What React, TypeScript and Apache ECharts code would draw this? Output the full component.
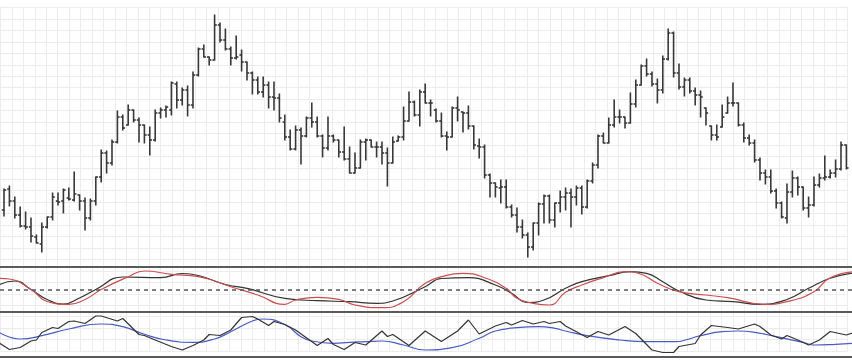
import React, { useEffect, useRef } from "react";
import * as echarts from "echarts";

// ---- OHLC data (157 bars), price units ----
const opens = [
  60, 81, 69, 55, 44, 43, 33, 26, 43, 53,
  69, 69, 72, 70, 75, 69, 52, 69, 93, 117,
  107, 128, 153, 145, 160, 150, 145, 135, 130, 157,
  160, 160, 186, 170, 180, 165, 195, 221, 213, 210,
  245, 230, 221, 212, 215, 208, 197, 190, 178, 185,
  173, 172, 148, 133, 121, 140, 134, 152, 148, 134,
  122, 134, 130, 118, 111, 97, 102, 128, 130, 123,
  123, 117, 107, 129, 133, 149, 168, 155, 178, 167,
  160, 149, 134, 133, 162, 158, 157, 144, 124, 123,
  95, 87, 82, 83, 63, 55, 43, 35, 23, 47,
  66, 74, 50, 67, 73, 77, 73, 82, 63, 89,
  105, 134, 127, 145, 153, 153, 147, 166, 185, 204,
  196, 186, 180, 211, 237, 197, 183, 190, 179, 175,
  162, 144, 135, 143, 157, 167, 167, 145, 132, 127,
  110, 97, 93, 79, 67, 52, 78, 92, 83, 62,
  65, 85, 92, 93, 97, 101, 125,
];
const closes = [
  80, 69, 55, 44, 43, 34, 27, 43, 53, 73,
  68, 80, 71, 76, 69, 52, 69, 93, 117, 107,
  128, 153, 142, 160, 150, 145, 135, 130, 157, 160,
  163, 187, 170, 180, 165, 195, 221, 213, 210, 245,
  230, 221, 212, 213, 208, 197, 190, 178, 185, 173,
  172, 152, 133, 121, 140, 134, 152, 148, 134, 122,
  134, 130, 118, 111, 97, 102, 128, 130, 123, 123,
  117, 107, 128, 133, 149, 168, 155, 178, 167, 167,
  149, 134, 133, 162, 160, 157, 144, 125, 123, 95,
  87, 83, 83, 63, 55, 43, 35, 23, 47, 66,
  74, 50, 67, 73, 77, 73, 82, 63, 89, 105,
  134, 127, 145, 153, 153, 147, 166, 185, 204, 196,
  186, 180, 211, 237, 197, 183, 190, 179, 175, 173,
  157, 135, 133, 153, 167, 167, 145, 132, 127, 110,
  97, 93, 79, 67, 53, 78, 92, 83, 62, 65,
  85, 92, 93, 97, 101, 125, 102,
];
const highs = [
  81, 84, 73, 63, 58, 52, 35, 47, 53, 77,
  77, 81, 82, 98, 75, 72, 71, 93, 120, 119,
  130, 159, 155, 165, 160, 152, 145, 143, 160, 162,
  164, 188, 188, 182, 184, 198, 222, 225, 213, 255,
  247, 241, 223, 234, 220, 208, 198, 193, 193, 188,
  188, 176, 155, 140, 144, 142, 153, 167, 153, 135,
  153, 135, 130, 143, 123, 117, 130, 131, 130, 128,
  128, 122, 133, 134, 163, 178, 169, 180, 186, 170,
  161, 157, 138, 163, 173, 158, 164, 144, 131, 125,
  96, 87, 90, 90, 65, 62, 50, 37, 47, 67,
  75, 75, 67, 79, 82, 81, 84, 84, 90, 107,
  135, 137, 152, 170, 160, 153, 177, 190, 205, 211,
  198, 191, 214, 241, 238, 206, 192, 192, 182, 179,
  162, 144, 145, 165, 173, 187, 167, 147, 135, 130,
  112, 100, 100, 81, 68, 86, 99, 93, 83, 73,
  93, 96, 114, 100, 110, 128, 125,
];
const lows = [
  54, 64, 52, 43, 41, 28, 27, 18, 42, 50,
  65, 57, 70, 69, 60, 40, 50, 65, 88, 97,
  105, 127, 140, 145, 148, 128, 127, 115, 129, 152,
  153, 155, 162, 165, 154, 162, 194, 213, 205, 210,
  228, 220, 205, 211, 199, 190, 176, 176, 173, 162,
  160, 148, 130, 120, 120, 106, 133, 143, 133, 113,
  120, 128, 113, 110, 97, 97, 102, 110, 123, 113,
  106, 84, 107, 129, 130, 149, 154, 144, 167, 154,
  148, 133, 120, 133, 149, 138, 141, 121, 112, 92,
  73, 73, 67, 62, 53, 38, 32, 13, 20, 35,
  47, 47, 43, 58, 60, 43, 65, 56, 62, 87,
  102, 127, 127, 143, 147, 142, 147, 163, 185, 194,
  184, 167, 177, 210, 193, 181, 174, 177, 165, 153,
  145, 130, 130, 143, 157, 164, 144, 128, 125, 108,
  90, 86, 77, 62, 52, 47, 73, 75, 60, 53,
  64, 83, 90, 92, 93, 100, 101,
];

// ---- Oscillator panel (bar index, value) ----
const oscBlack: [number, number][] = [
  [-1, 4.5], [2, 8.5], [5, 0], [8, -10], [11, -14.5], [14, -8.5], [17, 0], [22, 12.5],
  [29, 11.8], [33, 16], [36, 14], [41, 5], [45, 1.2], [52, -8.8], [58, -11.2], [64, -12.2],
  [69, -13.8], [72, -11.5], [78, 2.8], [81, 11], [86, 11.8], [91, 4.5], [94, -3.8], [97, -13],
  [100, -10.5], [104, 1.2], [107, 7.8], [112, 13.8], [116, 17.8], [119, 16.2], [122, 7.8],
  [125, -1.5], [130, -10.5], [135, -12.2], [140, -14.8], [145, -10], [149, 1.2], [153, 11.2], [158, 17],
];
const oscRed: [number, number][] = [
  [-1, 11.2], [1, 10.5], [5, 0], [8, -12], [12, -14.8], [15, -10], [18, 0], [23, 12.8],
  [26, 18.5], [31, 15.2], [36, 12.8], [42, 2.8], [47, -5.5], [52, -14.8], [54, -10.5], [58, -7.8],
  [62, -9.8], [65, -15.5], [70, -18.2], [74, -12.2], [78, 6.2], [81, 12.8], [85, 16.2], [89, 11.8],
  [93, 1.2], [95, -8.8], [98, -13.8], [101, -15.5], [104, -2.8], [107, 4.5], [111, 11.8], [115, 17.8],
  [118, 15.2], [121, 6.2], [125, -2.2], [130, -5.5], [134, -8.2], [141, -14.8], [145, -12.2],
  [150, -2.2], [153, 11.8], [158, 18],
];
const oscZero = 0;

// ---- Lower panel (bar index, value) ----
const lowerBlack: [number, number][] = [
  [-1, 14], [1, 7], [3, 9], [5, 15.5], [6, 16.5], [7, 24], [9, 29], [10, 28], [12, 35], [13, 35.5],
  [15, 33], [17, 40.5], [18, 40.5], [21, 35.5], [22, 38], [25, 22], [26, 21], [28, 16.5], [31, 10],
  [33, 6.5], [35, 11], [37, 16.5], [38, 22], [40, 21], [42, 26.5], [44, 39], [46, 40], [47, 37.5],
  [49, 31], [50, 35], [52, 32], [54, 26.5], [58, 11], [60, 18], [61, 12], [63, 7], [65, 14],
  [67, 11.5], [70, 25.5], [71, 20], [72, 22], [75, 11], [78, 25.5], [81, 15], [84, 25.5], [86, 36.5],
  [88, 22.5], [91, 30.5], [93, 34], [94, 31.5], [96, 36], [98, 32.5], [100, 35], [101, 33], [103, 35],
  [104, 30.5], [108, 19], [110, 25], [112, 21.5], [115, 30], [117, 23], [120, 6.5], [122, 4], [124, 4],
  [125, 10], [128, 13], [129, 21.5], [131, 31], [134, 29], [136, 27.5], [139, 32.5], [140, 30],
  [142, 21.5], [144, 17.5], [145, 21], [147, 16.5], [149, 11.5], [151, 16.5], [153, 25], [156, 21.5], [158, 25],
];
const lowerBlue: [number, number][] = [
  [-1, 24.5], [3, 17.5], [7, 20.8], [12, 27.5], [18, 32.5], [22, 29.8], [26, 22.2], [30, 16.5],
  [35, 14.2], [39, 17.5], [42, 24.8], [46, 35.5], [48, 37.5], [52, 32], [55, 19.8], [57, 15.5],
  [61, 13.2], [64, 14.2], [67, 14.8], [70, 15.5], [74, 11.5], [78, 6.5], [83, 8.8], [88, 18.2],
  [91, 25.5], [95, 28.8], [99, 29.8], [102, 28.2], [104, 25.5], [108, 20.8], [114, 16.5], [119, 14.8],
  [124, 14.8], [129, 20.8], [133, 24.8], [136, 25.5], [139, 24.2], [143, 19.8], [148, 14.2],
  [150, 11.5], [154, 12.2], [158, 13.5],
];

const X_MIN = -0.74;
const X_MAX = 157.04;
const BAR_COLOR = "#383838";
const BORDER = "#5a5a5a";
const GRID_LINE = "#ececec";

export default function App() {
  const ref = useRef<HTMLDivElement>(null);
  useEffect(() => {
    if (!ref.current) return;
    const chart = echarts.init(ref.current, undefined, { renderer: "svg" });
    const ohlc = closes.map((c, i) => [i, opens[i], c, lows[i], highs[i]]);
    const hiddenX = (gridIndex: number) => ({
      type: "value" as const, gridIndex, min: X_MIN, max: X_MAX,
      axisLine: { show: false }, axisTick: { show: false }, axisLabel: { show: false }, splitLine: { show: false },
    });
    const borderX = (gridIndex: number, position: "top" | "bottom") => ({
      type: "value" as const, gridIndex, min: X_MIN, max: X_MAX, position,
      axisLine: { show: true, onZero: false, lineStyle: { color: BORDER, width: 2 } },
      axisTick: { show: false }, axisLabel: { show: false }, splitLine: { show: false },
    });
    const hiddenY = (gridIndex: number, min: number, max: number) => ({
      type: "value" as const, gridIndex, min, max,
      axisLine: { show: false }, axisTick: { show: false }, axisLabel: { show: false }, splitLine: { show: false },
    });
    chart.setOption({
      animation: false,
      backgroundColor: "#ffffff",
      grid: [
        { left: 0.5, top: 7.5, width: 847, height: 343.5 },
        { left: 0, right: 0, top: 0, height: 265 },
        { left: 0, right: 0, top: 267, height: 44.5 },
        { left: 0, right: 0, top: 311.5, height: 45 },
      ],
      xAxis: [
        {
          type: "value", gridIndex: 0, min: 0, max: 74, interval: 1,
          axisLine: { show: false }, axisTick: { show: false }, axisLabel: { show: false },
          splitLine: { show: true, lineStyle: { color: GRID_LINE, width: 1 } },
        },
        hiddenX(1),
        borderX(2, "top"),
        borderX(3, "top"),
        borderX(3, "bottom"),
      ],
      yAxis: [
        {
          type: "value", gridIndex: 0, min: 0, max: 30, interval: 1,
          axisLine: { show: false }, axisTick: { show: false }, axisLabel: { show: false },
          splitLine: { show: true, lineStyle: { color: GRID_LINE, width: 1 } },
        },
        hiddenY(1, 5, 270),
        hiddenY(2, -22, 22.5),
        hiddenY(3, 0, 45),
      ],
      series: [
        {
          type: "custom",
          xAxisIndex: 1,
          yAxisIndex: 1,
          data: ohlc,
          encode: { x: 0, y: [1, 2, 3, 4] },
          renderItem: (_params: any, api: any) => {
            const x = api.value(0);
            const o = api.coord([x, api.value(1)]);
            const c = api.coord([x, api.value(2)]);
            const l = api.coord([x, api.value(3)]);
            const h = api.coord([x, api.value(4)]);
            const style = { stroke: BAR_COLOR, lineWidth: 1.6 };
            const t = 2.2;
            return {
              type: "group",
              children: [
                { type: "line", shape: { x1: h[0], y1: h[1] - 0.5, x2: l[0], y2: l[1] + 0.5 }, style },
                { type: "line", shape: { x1: o[0] - t, y1: o[1], x2: o[0], y2: o[1] }, style },
                { type: "line", shape: { x1: c[0], y1: c[1], x2: c[0] + t, y2: c[1] }, style },
              ],
            };
          },
        },
        {
          type: "line", xAxisIndex: 2, yAxisIndex: 2, data: oscBlack, smooth: 0.5,
          symbol: "none", lineStyle: { color: "#333333", width: 1.2 },
          markLine: {
            silent: true, symbol: "none", label: { show: false },
            lineStyle: { color: "#555555", width: 1.5, type: [4, 4] },
            data: [{ yAxis: oscZero }],
          },
        },
        {
          type: "line", xAxisIndex: 2, yAxisIndex: 2, data: oscRed, smooth: 0.5,
          symbol: "none", lineStyle: { color: "#c9504f", width: 1.2 },
        },
        {
          type: "line", xAxisIndex: 3, yAxisIndex: 3, data: lowerBlue, smooth: 0.5,
          symbol: "none", lineStyle: { color: "#4a5bc4", width: 1.2 },
        },
        {
          type: "line", xAxisIndex: 3, yAxisIndex: 3, data: lowerBlack, smooth: false,
          symbol: "none", lineStyle: { color: "#333333", width: 1.2 },
        },
      ],
    });
    return () => chart.dispose();
  }, []);
  return (
    <div
      ref={ref}
      style={{ position: "absolute", left: 0, top: 0, width: 852, height: 360, background: "#fff" }}
    />
  );
}
